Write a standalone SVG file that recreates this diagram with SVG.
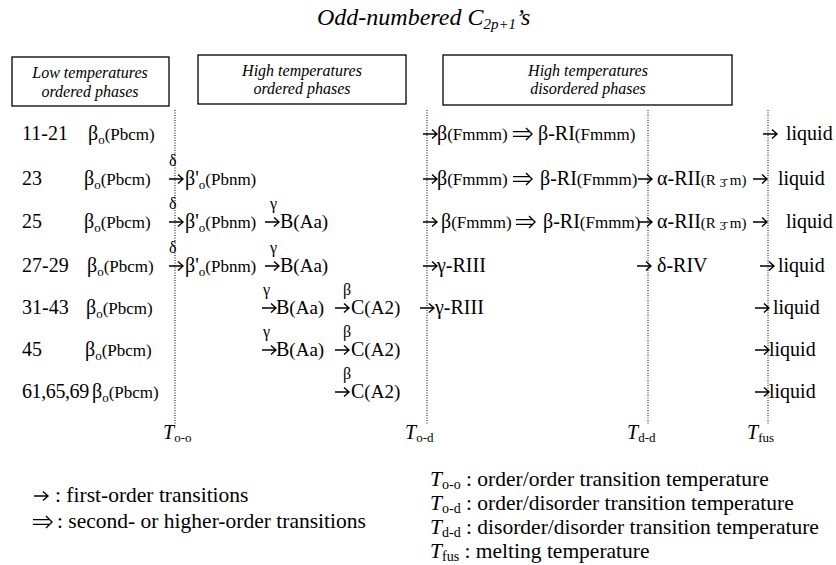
<svg xmlns="http://www.w3.org/2000/svg" xmlns:xlink="http://www.w3.org/1999/xlink" width="836" height="565" viewBox="0 0 836 565">
<style>
  text { fill: #000; }
  .big { font-size: 20px; }
  .sm { font-size: 17px; }
  .md { font-size: 19px; }
  .rm { font-size: 15px; }
  .sub { font-size: 13px; }
  .lbl { font-size: 16px; }
  .it { font-style: italic; }
  .hd { font-size: 16px; font-style: italic; text-anchor: middle; }
  .box { fill: #fff; stroke: #000; stroke-width: 1.3; }
  .dot { stroke: #000; stroke-width: 1; stroke-dasharray: 1 1.5; fill: none; }
  .arr { fill: none; stroke: #000; stroke-width: 1.4; }
  .leg { font-size: 21.5px; }
</style>
<defs>
  <!-- single arrow: first-order transition -->
  <g id="a1"><path class="arr" d="M0,0 H14 M9,-4.5 L14,0 L9,4.5"/></g>
  <!-- double arrow: second- or higher-order transition -->
  <g id="a2"><path class="arr" d="M0,-2.4 H17 M0,2.4 H17 M13,-6 L19,0 L13,6"/></g>
</defs>
<rect width="836" height="565" fill="#fff"/>

<!-- title -->
<text id="title" font-family="Liberation Serif, serif" x="317" y="25" class="it" font-size="24">Odd-numbered C<tspan font-size="15" dy="4">2p+1</tspan><tspan dy="-4">’s</tspan></text>

<!-- column headers -->
<g id="hdr-low">
  <rect class="box" x="12" y="57" width="157" height="49"/>
  <text font-family="Liberation Serif, serif" class="hd" x="90" y="78">Low temperatures</text>
  <text font-family="Liberation Serif, serif" class="hd" x="90" y="97">ordered phases</text>
</g>
<g id="hdr-high-ordered">
  <rect class="box" x="198" y="55" width="208" height="49"/>
  <text font-family="Liberation Serif, serif" class="hd" x="302" y="76">High temperatures</text>
  <text font-family="Liberation Serif, serif" class="hd" x="302" y="94">ordered phases</text>
</g>
<g id="hdr-high-disordered">
  <rect class="box" x="443" y="55" width="289" height="50"/>
  <text font-family="Liberation Serif, serif" class="hd" x="588" y="76">High temperatures</text>
  <text font-family="Liberation Serif, serif" class="hd" x="588" y="94">disordered phases</text>
</g>

<!-- transition temperature boundaries -->
<g id="boundaries">
  <line class="dot" x1="175" y1="110" x2="175" y2="424"/>
  <line class="dot" x1="427" y1="110" x2="427" y2="424"/>
  <line class="dot" x1="648" y1="110" x2="648" y2="424"/>
  <line class="dot" x1="768" y1="110" x2="768" y2="424"/>
  <text font-family="Liberation Serif, serif" x="163" y="439"><tspan class="it big">T</tspan><tspan class="sub" dy="3">o-o</tspan></text>
  <text font-family="Liberation Serif, serif" x="405" y="439"><tspan class="it big">T</tspan><tspan class="sub" dy="3">o-d</tspan></text>
  <text font-family="Liberation Serif, serif" x="627" y="439"><tspan class="it big">T</tspan><tspan class="sub" dy="3">d-d</tspan></text>
  <text font-family="Liberation Serif, serif" x="747" y="439"><tspan class="it big">T</tspan><tspan class="sub" dy="3">fus</tspan></text>
</g>

<!-- row: 11-21 -->
<g id="row-11-21">
  <text font-family="Liberation Serif, serif" class="big" x="22" y="140">11-21</text>
  <text font-family="Liberation Serif, serif" class="big" x="88" y="140">β<tspan class="sub" dy="4">o</tspan><tspan class="sm" dy="-4">(Pbcm)</tspan></text>
  <use xlink:href="#a1" x="423" y="134"/>
  <text font-family="Liberation Serif, serif" class="big" x="437" y="140">β<tspan class="sm">(Fmmm)</tspan></text>
  <use xlink:href="#a2" x="513" y="134"/>
  <text font-family="Liberation Serif, serif" class="big" x="538" y="140">β-RI<tspan class="sm">(Fmmm)</tspan></text>
  <use xlink:href="#a1" x="763" y="134"/>
  <text font-family="Liberation Serif, serif" class="big" x="786" y="140">liquid</text>
</g>

<!-- row: 23 -->
<g id="row-23">
  <text font-family="Liberation Serif, serif" class="big" x="22" y="185">23</text>
  <text font-family="Liberation Serif, serif" class="big" x="84" y="185">β<tspan class="sub" dy="4">o</tspan><tspan class="sm" dy="-4">(Pbcm)</tspan></text>
  <text font-family="Liberation Serif, serif" class="lbl" x="169" y="166">δ</text>
  <use xlink:href="#a1" x="169" y="179"/>
  <text font-family="Liberation Serif, serif" class="big" x="185" y="185">β'<tspan class="sub" dy="4">o</tspan><tspan class="sm" dy="-4">(Pbnm)</tspan></text>
  <use xlink:href="#a1" x="423" y="179"/>
  <text font-family="Liberation Serif, serif" class="big" x="437" y="185">β<tspan class="sm">(Fmmm)</tspan></text>
  <use xlink:href="#a2" x="513" y="179"/>
  <text font-family="Liberation Serif, serif" class="big" x="540" y="185">β-RI<tspan class="sm">(Fmmm)</tspan></text>
  <use xlink:href="#a1" x="638" y="179"/>
  <text font-family="Liberation Serif, serif" class="big" x="657" y="185">α-RII<tspan class="rm">(R </tspan><tspan class="sub" dy="2">3̄</tspan><tspan class="rm" dy="-2"> m)</tspan></text>
  <use xlink:href="#a1" x="753" y="179"/>
  <text font-family="Liberation Serif, serif" class="big" x="778" y="185">liquid</text>
</g>

<!-- row: 25 -->
<g id="row-25">
  <text font-family="Liberation Serif, serif" class="big" x="22" y="228">25</text>
  <text font-family="Liberation Serif, serif" class="big" x="84" y="228">β<tspan class="sub" dy="4">o</tspan><tspan class="sm" dy="-4">(Pbcm)</tspan></text>
  <text font-family="Liberation Serif, serif" class="lbl" x="169" y="209">δ</text>
  <use xlink:href="#a1" x="169" y="222"/>
  <text font-family="Liberation Serif, serif" class="big" x="185" y="228">β'<tspan class="sub" dy="4">o</tspan><tspan class="sm" dy="-4">(Pbnm)</tspan></text>
  <text font-family="Liberation Serif, serif" class="lbl" x="270" y="209">γ</text>
  <use xlink:href="#a1" x="265" y="222"/>
  <text font-family="Liberation Serif, serif" class="big" x="280" y="228">B<tspan class="md">(Aa)</tspan></text>
  <use xlink:href="#a1" x="423" y="222"/>
  <text font-family="Liberation Serif, serif" class="big" x="441" y="228">β<tspan class="sm">(Fmmm)</tspan></text>
  <use xlink:href="#a2" x="516" y="222"/>
  <text font-family="Liberation Serif, serif" class="big" x="543" y="228">β-RI<tspan class="sm">(Fmmm)</tspan></text>
  <use xlink:href="#a1" x="638" y="222"/>
  <text font-family="Liberation Serif, serif" class="big" x="657" y="228">α-RII<tspan class="rm">(R </tspan><tspan class="sub" dy="2">3̄</tspan><tspan class="rm" dy="-2"> m)</tspan></text>
  <use xlink:href="#a1" x="753" y="222"/>
  <text font-family="Liberation Serif, serif" class="big" x="786" y="228">liquid</text>
</g>

<!-- row: 27-29 -->
<g id="row-27-29">
  <text font-family="Liberation Serif, serif" class="big" x="22" y="272">27-29</text>
  <text font-family="Liberation Serif, serif" class="big" x="87" y="272">β<tspan class="sub" dy="4">o</tspan><tspan class="sm" dy="-4">(Pbcm)</tspan></text>
  <text font-family="Liberation Serif, serif" class="lbl" x="169" y="253">δ</text>
  <use xlink:href="#a1" x="169" y="266"/>
  <text font-family="Liberation Serif, serif" class="big" x="185" y="272">β'<tspan class="sub" dy="4">o</tspan><tspan class="sm" dy="-4">(Pbnm)</tspan></text>
  <text font-family="Liberation Serif, serif" class="lbl" x="270" y="253">γ</text>
  <use xlink:href="#a1" x="265" y="266"/>
  <text font-family="Liberation Serif, serif" class="big" x="280" y="272">B<tspan class="md">(Aa)</tspan></text>
  <use xlink:href="#a1" x="423" y="266"/>
  <text font-family="Liberation Serif, serif" class="big" x="437" y="272">γ-RIII</text>
  <use xlink:href="#a1" x="637" y="266"/>
  <text font-family="Liberation Serif, serif" class="big" x="657" y="272">δ-RIV</text>
  <use xlink:href="#a1" x="760" y="266"/>
  <text font-family="Liberation Serif, serif" class="big" x="778" y="272">liquid</text>
</g>

<!-- row: 31-43 -->
<g id="row-31-43">
  <text font-family="Liberation Serif, serif" class="big" x="22" y="314">31-43</text>
  <text font-family="Liberation Serif, serif" class="big" x="86" y="314">β<tspan class="sub" dy="4">o</tspan><tspan class="sm" dy="-4">(Pbcm)</tspan></text>
  <text font-family="Liberation Serif, serif" class="lbl" x="263" y="295">γ</text>
  <use xlink:href="#a1" x="262" y="308"/>
  <text font-family="Liberation Serif, serif" class="big" x="276" y="314">B<tspan class="md">(Aa)</tspan></text>
  <text font-family="Liberation Serif, serif" class="lbl" x="343" y="295">β</text>
  <use xlink:href="#a1" x="335" y="308"/>
  <text font-family="Liberation Serif, serif" class="big" x="351" y="314">C<tspan class="md">(A2)</tspan></text>
  <use xlink:href="#a1" x="420" y="308"/>
  <text font-family="Liberation Serif, serif" class="big" x="435" y="314">γ-RIII</text>
  <use xlink:href="#a1" x="755" y="308"/>
  <text font-family="Liberation Serif, serif" class="big" x="773" y="314">liquid</text>
</g>

<!-- row: 45 -->
<g id="row-45">
  <text font-family="Liberation Serif, serif" class="big" x="22" y="356">45</text>
  <text font-family="Liberation Serif, serif" class="big" x="85" y="356">β<tspan class="sub" dy="4">o</tspan><tspan class="sm" dy="-4">(Pbcm)</tspan></text>
  <text font-family="Liberation Serif, serif" class="lbl" x="263" y="337">γ</text>
  <use xlink:href="#a1" x="262" y="350"/>
  <text font-family="Liberation Serif, serif" class="big" x="276" y="356">B<tspan class="md">(Aa)</tspan></text>
  <text font-family="Liberation Serif, serif" class="lbl" x="343" y="337">β</text>
  <use xlink:href="#a1" x="335" y="350"/>
  <text font-family="Liberation Serif, serif" class="big" x="351" y="356">C<tspan class="md">(A2)</tspan></text>
  <use xlink:href="#a1" x="755" y="350"/>
  <text font-family="Liberation Serif, serif" class="big" x="769" y="356">liquid</text>
</g>

<!-- row: 61,65,69 -->
<g id="row-61-65-69">
  <text font-family="Liberation Serif, serif" class="big" x="22" y="398" letter-spacing="-0.4">61,65,69</text>
  <text font-family="Liberation Serif, serif" class="big" x="92" y="398">β<tspan class="sub" dy="4">o</tspan><tspan class="sm" dy="-4">(Pbcm)</tspan></text>
  <text font-family="Liberation Serif, serif" class="lbl" x="343" y="379">β</text>
  <use xlink:href="#a1" x="335" y="392"/>
  <text font-family="Liberation Serif, serif" class="big" x="351" y="398">C<tspan class="md">(A2)</tspan></text>
  <use xlink:href="#a1" x="755" y="392"/>
  <text font-family="Liberation Serif, serif" class="big" x="769" y="398">liquid</text>
</g>

<!-- legend: arrow types -->
<g id="legend-arrows">
  <use xlink:href="#a1" x="34" y="496"/>
  <text font-family="Liberation Serif, serif" class="leg" x="55" y="502">: first-order transitions</text>
  <use xlink:href="#a2" x="33" y="522"/>
  <text font-family="Liberation Serif, serif" class="leg" x="57" y="528">: second- or higher-order transitions</text>
</g>

<!-- legend: temperatures -->
<g id="legend-temps">
  <text font-family="Liberation Serif, serif" class="leg" x="430" y="486"><tspan class="it">T</tspan><tspan font-size="14" dy="3">o-o</tspan><tspan dy="-3"> : order/order transition temperature</tspan></text>
  <text font-family="Liberation Serif, serif" class="leg" x="430" y="510"><tspan class="it">T</tspan><tspan font-size="14" dy="3">o-d</tspan><tspan dy="-3"> : order/disorder transition temperature</tspan></text>
  <text font-family="Liberation Serif, serif" class="leg" x="430" y="534"><tspan class="it">T</tspan><tspan font-size="14" dy="3">d-d</tspan><tspan dy="-3"> : disorder/disorder transition temperature</tspan></text>
  <text font-family="Liberation Serif, serif" class="leg" x="430" y="558"><tspan class="it">T</tspan><tspan font-size="14" dy="3">fus</tspan><tspan dy="-3"> : melting temperature</tspan></text>
</g>
</svg>
